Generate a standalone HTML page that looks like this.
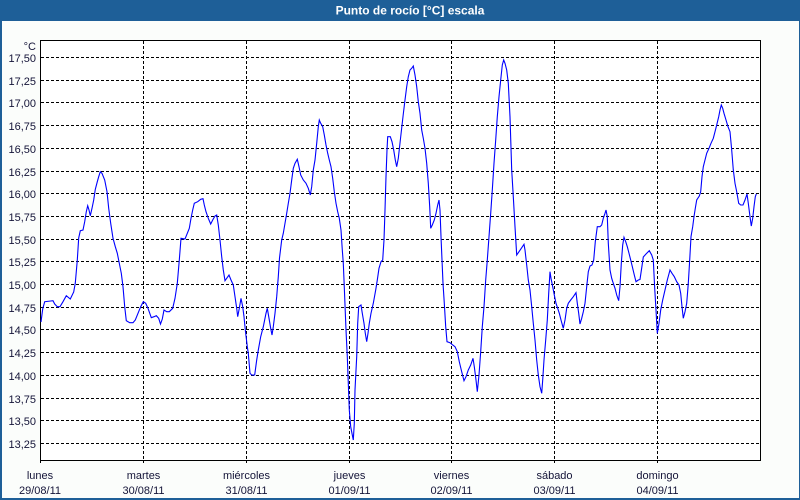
<!DOCTYPE html>
<html>
<head>
<meta charset="utf-8">
<style>
  html,body{margin:0;padding:0;background:#fbfdfb;}
  svg{display:block;}
  text{font-family:"Liberation Sans",sans-serif;}
</style>
</head>
<body>
<svg width="800" height="500" viewBox="0 0 800 500" xmlns="http://www.w3.org/2000/svg">
  <!-- background & borders -->
  <rect x="0" y="0" width="800" height="500" fill="#fbfdfb"/>
  <rect x="0" y="0" width="800" height="21" fill="#1e5f98"/>
  <rect x="0" y="0" width="2" height="500" fill="#1e5f98"/>
  <rect x="799" y="0" width="1" height="500" fill="#1e5f98"/>
  <rect x="0" y="498" width="800" height="2" fill="#1e5f98"/>
  <text x="410" y="14.5" font-size="12" font-weight="bold" fill="#ffffff" text-anchor="middle">Punto de rocío [°C] escala</text>

  <!-- plot area -->
  <rect x="40.5" y="40.5" width="720" height="420" fill="#ffffff"/>

  <!-- horizontal grid -->
  <g stroke="#000" stroke-width="1" stroke-dasharray="3,2" shape-rendering="crispEdges">
    <line x1="41" x2="760" y1="57.5" y2="57.5"/>
    <line x1="41" x2="760" y1="80.5" y2="80.5"/>
    <line x1="41" x2="760" y1="102.5" y2="102.5"/>
    <line x1="41" x2="760" y1="125.5" y2="125.5"/>
    <line x1="41" x2="760" y1="148.5" y2="148.5"/>
    <line x1="41" x2="760" y1="171.5" y2="171.5"/>
    <line x1="41" x2="760" y1="193.5" y2="193.5"/>
    <line x1="41" x2="760" y1="216.5" y2="216.5"/>
    <line x1="41" x2="760" y1="239.5" y2="239.5"/>
    <line x1="41" x2="760" y1="261.5" y2="261.5"/>
    <line x1="41" x2="760" y1="284.5" y2="284.5"/>
    <line x1="41" x2="760" y1="307.5" y2="307.5"/>
    <line x1="41" x2="760" y1="329.5" y2="329.5"/>
    <line x1="41" x2="760" y1="352.5" y2="352.5"/>
    <line x1="41" x2="760" y1="375.5" y2="375.5"/>
    <line x1="41" x2="760" y1="398.5" y2="398.5"/>
    <line x1="41" x2="760" y1="420.5" y2="420.5"/>
    <line x1="41" x2="760" y1="443.5" y2="443.5"/>
  </g>
  <!-- vertical grid -->
  <g stroke="#000" stroke-width="1" stroke-dasharray="3,2" shape-rendering="crispEdges">
    <line x1="143.5" x2="143.5" y1="41" y2="463"/>
    <line x1="246.5" x2="246.5" y1="41" y2="463"/>
    <line x1="349.5" x2="349.5" y1="41" y2="463"/>
    <line x1="451.5" x2="451.5" y1="41" y2="463"/>
    <line x1="554.5" x2="554.5" y1="41" y2="463"/>
    <line x1="657.5" x2="657.5" y1="41" y2="463"/>
  </g>

  <!-- frame -->
  <g stroke="#000" stroke-width="1" shape-rendering="crispEdges" fill="none">
    <rect x="40.5" y="40.5" width="720" height="420"/>
    <line x1="40.5" x2="40.5" y1="460" y2="463"/>
  </g>

  <!-- y labels -->
  <g font-size="11" fill="#141438" text-anchor="end">
    <text x="36" y="50">°C</text>
    <text x="36" y="62">17,50</text>
    <text x="36" y="85">17,25</text>
    <text x="36" y="107">17,00</text>
    <text x="36" y="130">16,75</text>
    <text x="36" y="153">16,50</text>
    <text x="36" y="176">16,25</text>
    <text x="36" y="198">16,00</text>
    <text x="36" y="221">15,75</text>
    <text x="36" y="244">15,50</text>
    <text x="36" y="266">15,25</text>
    <text x="36" y="289">15,00</text>
    <text x="36" y="312">14,75</text>
    <text x="36" y="334">14,50</text>
    <text x="36" y="357">14,25</text>
    <text x="36" y="380">14,00</text>
    <text x="36" y="403">13,75</text>
    <text x="36" y="425">13,50</text>
    <text x="36" y="448">13,25</text>
  </g>

  <!-- x labels -->
  <g font-size="11" fill="#141438" text-anchor="middle">
    <text x="40" y="479">lunes</text>
    <text x="40" y="494">29/08/11</text>
    <text x="143.5" y="479">martes</text>
    <text x="143.5" y="494">30/08/11</text>
    <text x="246.5" y="479">miércoles</text>
    <text x="246.5" y="494">31/08/11</text>
    <text x="349.5" y="479">jueves</text>
    <text x="349.5" y="494">01/09/11</text>
    <text x="451.5" y="479">viernes</text>
    <text x="451.5" y="494">02/09/11</text>
    <text x="554.5" y="479">sábado</text>
    <text x="554.5" y="494">03/09/11</text>
    <text x="657.5" y="479">domingo</text>
    <text x="657.5" y="494">04/09/11</text>
  </g>

  <!-- series -->
  <polyline fill="none" stroke="#0000ff" stroke-width="1.1" stroke-linejoin="miter" points="
41,322 42.7,309 44.7,301.7 50.7,301 53,300.7 54.7,304 57.3,306.7 60,306.7 63,301.7 66.3,295.7 70.3,299 73.7,292 75.3,283 77.3,260 78.7,238 80.3,230.7 83,230 84.7,221.7 86.3,211.7 87.7,205.7 89,210 90.3,215.7 92,208.3 93.7,200 95.3,189.3 97.3,181.7 98.7,176.7 100.3,171.7 102,173.3 104.7,180 107,191.7 108.7,208.3 110.7,223.3 113,238.3 115.3,246.7 117.3,253.3 119.3,263.3 121.3,273.3 123,286.7 124.7,306.7 126.3,320.7 129.7,322.7 133,322.7 135.3,320 138,313.3 140.7,306.7 143.3,301.7 145.7,303.3 148,308.3 151.3,317.7 154,316.7 156.3,315.7 158.7,318.3 160.5,324 162.3,319 164,310 166.7,311.7 169.3,311.7 172.7,308.3 175,298.3 177.3,283.3 179.3,260 181,238.3 185,239 187.3,233.3 189.3,228.3 191,218.3 192.7,210 194.3,203.3 197.7,201.7 200.7,199.3 203,198.7 204.3,205 206,211.7 208.3,218.3 210.7,224 212.7,220 215,216 216.7,215 218.3,225 220,240 221.7,256.7 223.3,270 225,280.7 226.7,278.3 229,275 231,280 233.3,285 235,296.7 236.7,308.3 237.7,316.7 239.3,308.3 241,298.3 242.7,306.7 244,316.7 245.3,330 247.3,346.7 248.3,353.3 250,373.3 251.7,375 254.7,375 256.7,360 258.3,350 260.7,336.7 263.3,326.7 266,313.3 267.3,308.3 269.3,320 271,330 272,335 273.3,326.7 275,313.3 276.7,296.7 278.3,276.7 279.5,258 281.7,240 283.3,233.3 285,223.3 286.7,213.3 288.3,203.3 290,193.3 291.7,180 293.3,168.3 295,163.3 297.3,159.3 299,166.7 300.7,175 303.3,180 306,183.3 308.3,188.3 310.3,195 311.7,186.7 313.3,170 315,160 316.7,143.3 318.3,126.7 319.3,120 320.7,123.3 322.7,126.7 324.3,135 326,145 327.7,153.3 329.3,160 331,166.7 332.7,178.3 334.3,191.7 336,203.3 337.7,211.7 339.3,218.3 341,230 342.3,250 343.3,263.3 344,280 345,305 346,330 347.3,356.7 348.3,383.3 349.3,410 350.7,426.7 352.3,435 353.3,440 354.3,423.3 355,390 356.7,356.7 357.7,323.3 358.7,306.7 361,305 362.3,313.3 364,323.3 365.3,333.3 366.7,341.7 368,333.3 369.3,323.3 371,313.3 373.3,303.3 375.7,290 377.3,280 379,268.3 381,261.7 382.7,260 384,240 385,210 386,176.7 387,150 387.7,136.7 390.3,136.7 392,141.7 393.7,150 395.3,160 396.7,166.7 398.3,158.3 400,143 401.7,128 403.3,114 405,100 406.7,86.7 408.3,76.7 410,70 411.7,68.3 413.3,66 415,75 416.7,86.7 418.3,101.7 420,113.3 421.7,130 423.3,138.3 425,148.3 426.7,163.3 428.3,183.3 429.7,206.7 430.7,228.3 432.3,225 434.3,220 436,213.3 437.7,205 439,200 440,210 441,236.7 442,260 443,283.3 444.3,303.3 445.7,326.7 447,341.7 450,342.7 452.7,345 455,346.7 457.3,351.7 459.3,361.7 461.7,371.7 464,380.7 466,376.7 468.3,370 470.7,365 473,358.3 474.3,366.7 476,380 477.3,391.7 479,375 480.7,351.7 482.3,326.7 484,306.7 485.7,280 487.3,260 489,236.7 490.7,213.3 492.3,190 494,163.3 495.7,140 497.3,116.7 499,96.7 500.7,80 502.3,65 503.7,60 505,63.3 506.7,70 508.3,83.3 510,116.7 511.7,170 513.3,196.7 515,226.7 516.7,255 519,251.7 521.3,248.3 524,244.3 525,250 526.7,265 528.3,280 530,290 531.7,306.7 533.3,323.3 535,340 536.7,360 538.3,375 540,386.7 541.7,393.3 542.7,380 544,360 545.7,340 547.3,320 548.7,293.3 550,271.7 551,278.3 552.7,286.7 554.3,295 556,303.3 557.7,308.3 559.3,313.3 561,320 563.3,328.3 565,320 566.7,308.3 568.3,303.3 570.7,300 573.3,296.7 576,292.7 577.3,303.3 578.7,313.3 580,324 581.7,318.3 583.3,311.7 585,303.3 586.7,286.7 588.3,271.7 590,266 592,265 593.7,260 595.3,241.7 597.3,226.7 600,226.7 601.7,225 603.3,218.3 605,213.3 606,210 607.3,216.7 608.3,243.3 610,270 611.7,278.3 613.3,283.3 615,288.3 616.7,295 618.7,300.7 620,286.7 621.3,263.3 622.7,245 624,237.3 625.7,241.7 627.3,246.7 629,253.3 630.7,260 632.7,268.3 634.3,275 636,281.7 638.3,280 640,279.5 641.7,268 643.3,257 646,254 649.3,250.7 651.7,255 653.3,260 654.7,288.3 656,310 657.3,333.3 659,323.3 660.7,310 662.7,300 665,290 667.3,280 670,270 672,273.3 674.3,276.7 676.7,281.7 679,285 680.7,293.3 682,306.7 683.3,318.3 685,311.7 686.7,303.3 688.3,283.3 689.7,260 691,236.7 692.7,226.7 694,216.7 695.3,208.3 696.7,200 699.3,196 700.7,191.7 702,176.7 703.3,166.7 705,160 706.7,153.3 709,148.3 711,143.3 713.3,138.3 715,131.7 716.7,125 718.7,116.7 720,110 721.3,105 722.7,108.3 724,113.3 726,120 728,126.7 730,131.7 731.7,150 733.3,170 735,183.3 736.7,191.7 738.7,203.3 740.7,205 743,205 745,200 747,194 748.3,203.3 750,216.7 751.3,226 752.7,218.3 754,206.7 755.3,196.7 756.3,194"/>
</svg>
</body>
</html>
